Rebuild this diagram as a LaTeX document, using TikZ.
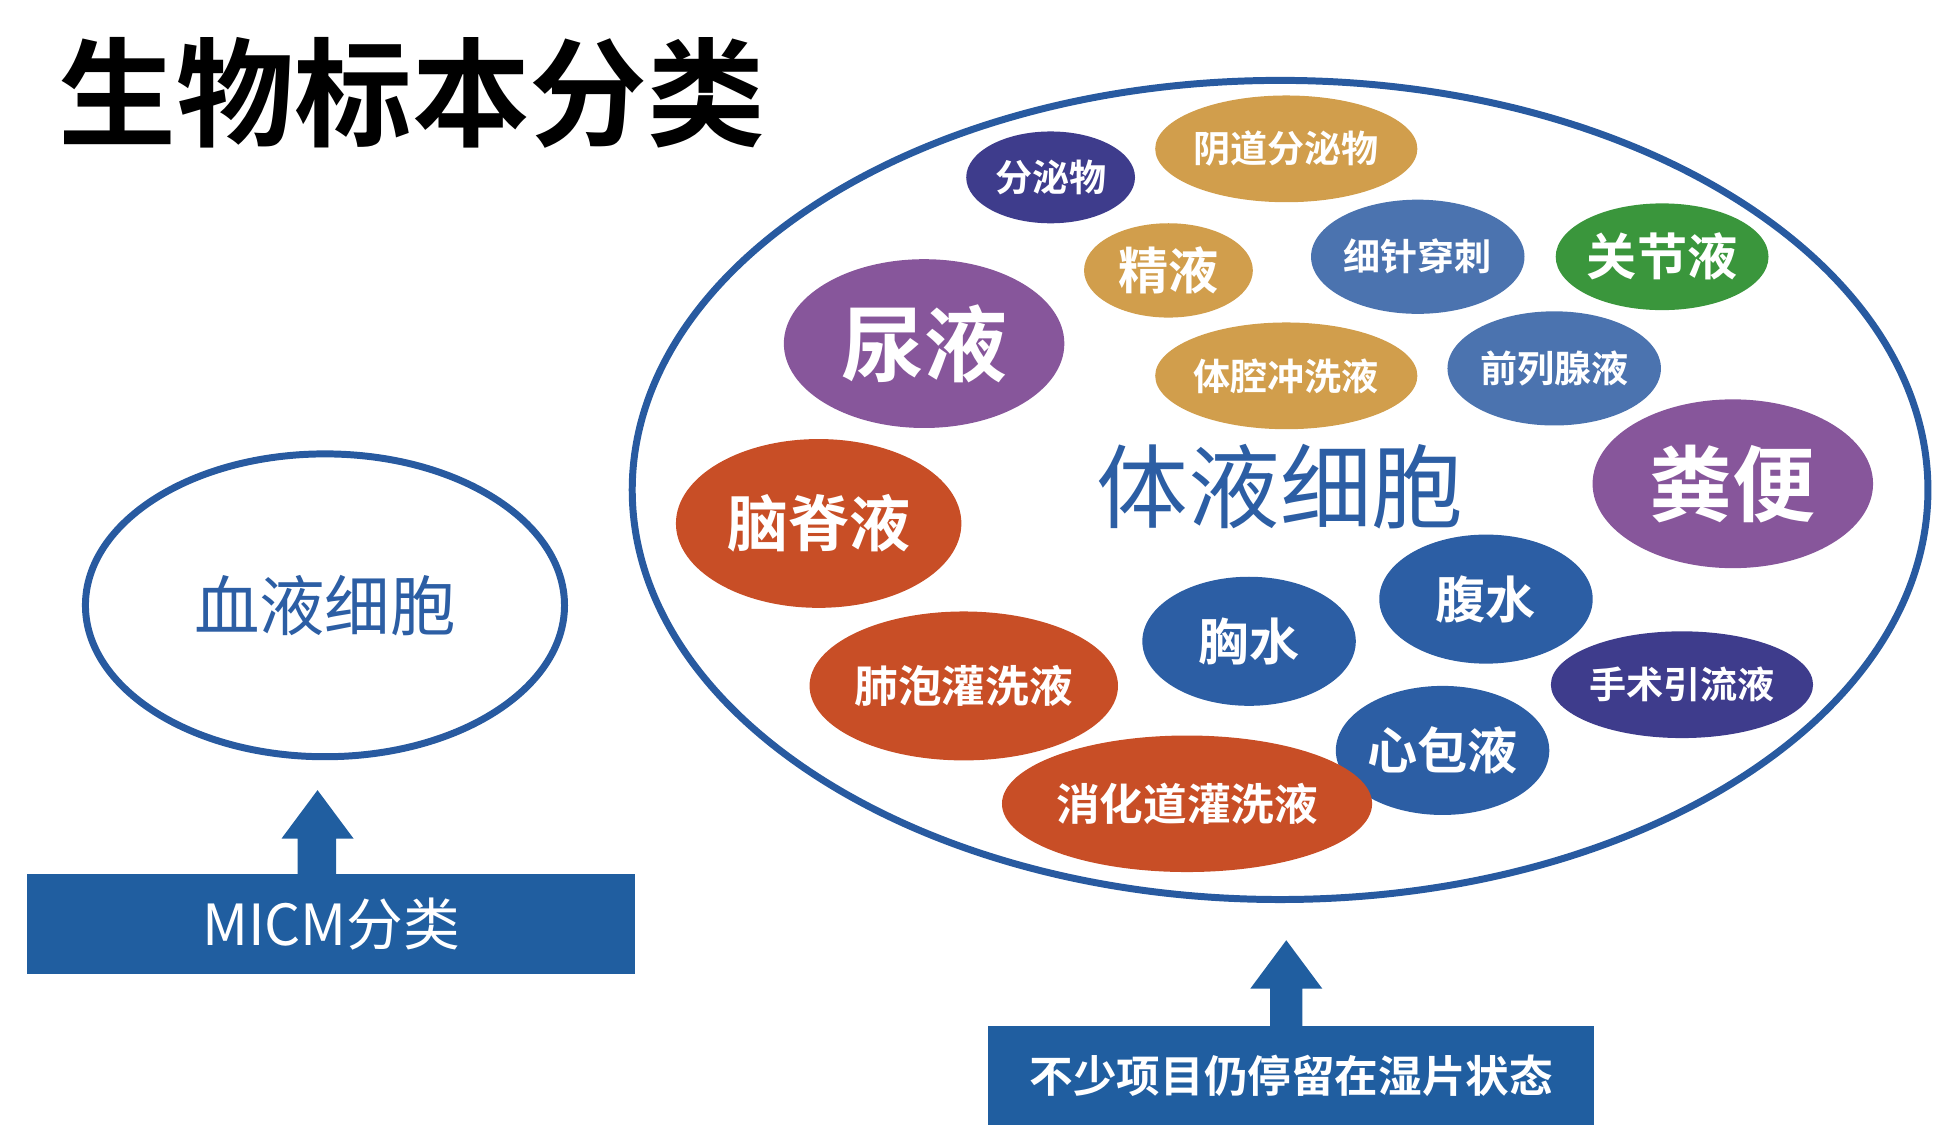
\documentclass[tikz,border=0pt]{standalone}
\usepackage{fontspec}
\usetikzlibrary{shapes.geometric}
\newfontfamily\cjk{Noto Sans CJK SC}
\newfontfamily\cjkb{Noto Sans CJK SC Bold}
\definecolor{dpur}{RGB}{62,60,140}
\definecolor{tan}{RGB}{209,158,76}
\definecolor{sblue}{RGB}{75,115,175}
\definecolor{grn}{RGB}{58,150,60}
\definecolor{pur}{RGB}{135,86,155}
\definecolor{org}{RGB}{200,78,38}
\definecolor{nblue}{RGB}{44,94,164}
\definecolor{ibox}{RGB}{32,94,160}
\definecolor{ring}{RGB}{40,90,160}
\tikzset{every picture/.style={x=0.01cm,y=-0.01cm}}
\tikzset{blob/.style={ellipse,inner sep=0pt,text=white}}
\tikzset{sml/.style={font=\cjkb\fontsize{8.5}{9}\selectfont}}
\tikzset{mid/.style={font=\cjkb\fontsize{11.5}{12}\selectfont}}
\tikzset{big/.style={font=\cjkb\fontsize{19}{20}\selectfont}}
\tikzset{infobox/.style={fill=ibox,text=white,inner sep=0pt}}
\tikzset{uparrow/.style={fill=ibox}}
\begin{document}
\begin{tikzpicture}
\useasboundingbox (0,0) rectangle (1560,912);
\node [font=\cjkb\fontsize{27}{28}\selectfont,anchor=west] (title) at (35,75) {生物标本分类};

\node [ellipse,draw=ring,line width=1.6pt,minimum width=10.44cm,minimum height=6.6cm] (body) at (1032,395) {};
\node [ellipse,draw=ring,line width=1.6pt,minimum width=3.86cm,minimum height=2.44cm,text=nblue,font=\cjk\fontsize{15}{16}\selectfont] (blood) at (262,488) {血液细胞};
\node [text=nblue,font=\cjk\fontsize{21}{22}\selectfont] (bodylbl) at (1032,392) {体液细胞};

\node [blob,sml,fill=dpur,minimum width=1.36cm,minimum height=0.74cm] (fmw) at (847,143) {分泌物};
\node [blob,sml,fill=tan,minimum width=2cm,minimum height=0.86cm] (ydfmw) at (1037,120) {阴道分泌物};
\node [blob,mid,fill=tan,minimum width=1.36cm,minimum height=0.76cm] (jy) at (942,218) {精液};
\node [blob,sml,fill=sblue,minimum width=1.72cm,minimum height=0.92cm] (zzcc) at (1143,207) {细针穿刺};
\node [blob,mid,fill=grn,minimum width=1.56cm,minimum height=0.86cm] (gjy) at (1340,207) {关节液};
\node [blob,big,fill=pur,minimum width=2.26cm,minimum height=1.36cm] (ny) at (745,277) {尿液};
\node [blob,sml,fill=tan,minimum width=2cm,minimum height=0.86cm] (tqcxy) at (1037,303) {体腔冲洗液};
\node [blob,sml,fill=sblue,minimum width=1.72cm,minimum height=0.92cm] (qlxy) at (1253,297) {前列腺液};
\node [blob,big,fill=pur,minimum width=2.26cm,minimum height=1.36cm] (fb) at (1397,390) {粪便};
\node [blob,font=\cjkb\fontsize{14}{15}\selectfont,fill=org,minimum width=2.3cm,minimum height=1.36cm] (njy) at (660,422) {脑脊液};
\node [blob,mid,fill=nblue,minimum width=1.72cm,minimum height=1.04cm] (fs) at (1198,483) {腹水};
\node [blob,mid,fill=nblue,minimum width=1.72cm,minimum height=1.04cm] (xs) at (1007,517) {胸水};
\node [blob,sml,fill=dpur,minimum width=2cm,minimum height=0.86cm] (ssyly) at (1356,552) {手术引流液};
\node [blob,font=\cjkb\fontsize{10}{11}\selectfont,fill=org,minimum width=2.24cm,minimum height=1.2cm] (fpgxy) at (777,553) {肺泡灌洗液};
\node [blob,mid,fill=nblue,minimum width=1.72cm,minimum height=1.04cm] (xby) at (1163,605) {心包液};
\node [blob,font=\cjkb\fontsize{10}{11}\selectfont,fill=org,minimum width=2.24cm,minimum height=1.1cm] (xhdgxy) at (957,648) {消化道灌洗液};

\node [infobox,minimum width=4.9cm,minimum height=0.8cm,font=\cjk\fontsize{13}{14}\selectfont] (micm) at (267,745) {MICM分类};
\node [infobox,minimum width=4.88cm,minimum height=0.8cm,font=\cjkb\fontsize{10}{11}\selectfont] (wet) at (1041,867) {不少项目仍停留在湿片状态};

\fill [uparrow] (240,705) -- (240,676) -- (227,676) -- (256,637) -- (285,676) -- (271,676) -- (271,705) -- cycle;
\fill [uparrow] (1024,827) -- (1024,797) -- (1008,797) -- (1037,758) -- (1066,797) -- (1050,797) -- (1050,827) -- cycle;
\end{tikzpicture}
\end{document}
